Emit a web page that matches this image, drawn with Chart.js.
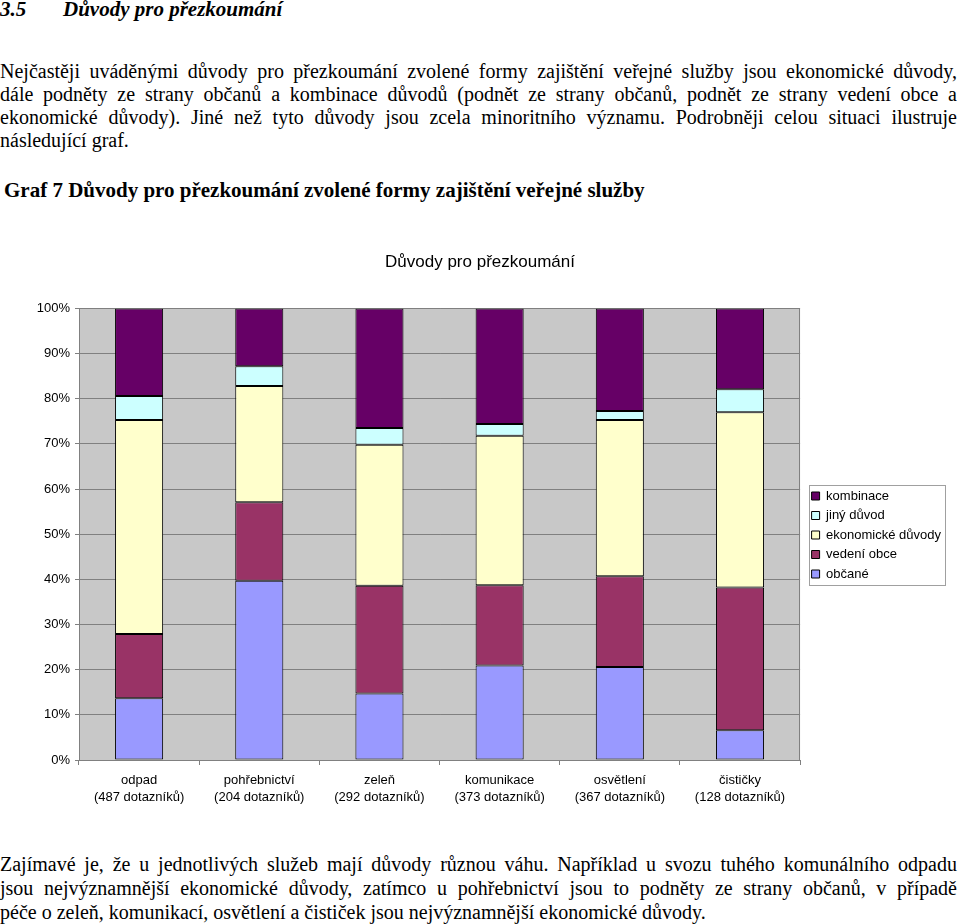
<!DOCTYPE html>
<html lang="cs">
<head>
<meta charset="utf-8">
<script src="https://cdn.jsdelivr.net/npm/chart.js@4.4.1/dist/chart.umd.min.js"></script>
<style>
  html, body { margin: 0; padding: 0; background: #fff; }
  body { width: 960px; height: 924px; position: relative; overflow: hidden;
         font-family: "Liberation Serif", "Times New Roman", serif; color: #000; }
  .line { position: absolute; left: 0; width: 957px; font-size: 20px; line-height: 23px;
          white-space: nowrap; text-align: justify; text-align-last: justify; }
  .last { text-align-last: left; }
  #h { position: absolute; left: 0; top: -3px; font-size: 21px; font-weight: bold; font-style: italic; }
  #h span { display: inline-block; width: 63px; }
  #g { position: absolute; left: 4px; top: 178px; font-size: 21px; font-weight: bold; }
  #wrap { position: absolute; left: 0; top: 230px; width: 960px; height: 600px; }
</style>
</head>
<body>
<div id="h"><span>3.5</span>Důvody pro přezkoumání</div>
<div class="line" style="top:60px">Nejčastěji uváděnými důvody pro přezkoumání zvolené formy zajištění veřejné služby jsou ekonomické důvody,</div>
<div class="line" style="top:83px">dále podněty ze strany občanů a kombinace důvodů (podnět ze strany občanů, podnět ze strany vedení obce a</div>
<div class="line" style="top:106px">ekonomické důvody). Jiné než tyto důvody jsou zcela minoritního významu. Podrobněji celou situaci ilustruje</div>
<div class="line last" style="top:129px">následující graf.</div>
<div id="g">Graf 7 Důvody pro přezkoumání zvolené formy zajištění veřejné služby</div>
<div id="wrap"><canvas id="c" width="960" height="600"></canvas></div>
<div class="line" style="top:853px">Zajímavé je, že u jednotlivých služeb mají důvody různou váhu. Například u svozu tuhého komunálního odpadu</div>
<div class="line" style="top:877px">jsou nejvýznamnější ekonomické důvody, zatímco u pohřebnictví jsou to podněty ze strany občanů, v případě</div>
<div class="line last" style="top:901px">péče o zeleň, komunikací, osvětlení a čističek jsou nejvýznamnější ekonomické důvody.</div>

<script>
// ---- data (percent shares) ----
const categories = [
  ["odpad", "(487 dotazníků)"],
  ["pohřebnictví", "(204 dotazníků)"],
  ["zeleň", "(292 dotazníků)"],
  ["komunikace", "(373 dotazníků)"],
  ["osvětlení", "(367 dotazníků)"],
  ["čističky", "(128 dotazníků)"]
];
const obcane      = [13.7, 39.7, 14.7, 20.9, 20.6, 6.6];
const vedeniObce  = [14.2, 17.4, 23.9, 17.8, 20.1, 31.6];
const ekonomicke  = [47.4, 25.7, 31.2, 33.1, 34.6, 38.8];
const jinyDuvod   = [5.3, 4.4, 3.7, 2.6, 2.0, 5.1];
const kombinace   = [19.4, 12.8, 26.5, 25.6, 22.7, 17.9];
const yTicks = [0, 10, 20, 30, 40, 50, 60, 70, 80, 90, 100];

const FONT = "'Liberation Sans', Arial, sans-serif";

const plotBg = {
  id: 'plotBg',
  beforeDraw(chart) {
    const {ctx, chartArea: a} = chart;
    ctx.save();
    ctx.fillStyle = '#c8c8c8';
    ctx.fillRect(a.left, a.top, a.right - a.left, a.bottom - a.top);
    ctx.restore();
  },
  afterDatasetsDraw(chart) {
    const {ctx, chartArea: a} = chart;
    ctx.save();
    ctx.strokeStyle = '#808080';
    ctx.lineWidth = 1;
    ctx.beginPath();
    ctx.moveTo(Math.round(a.right) - 0.5, a.top);
    ctx.lineTo(Math.round(a.right) - 0.5, a.bottom);
    ctx.stroke();
    ctx.restore();
  }
};

// nudge the legend block and title to where they sit in the original
const blockShift = {
  id: 'blockShift',
  afterLayout(chart) {
    const lg = chart.legend;
    if (lg) {
      lg.top += 5; lg.bottom += 5;
      lg.left += 5; lg.right += 5;
    }
    const tb = chart.titleBlock;
    if (tb) { tb.left += 7; tb.right += 7; }
  }
};

const legendFrame = {
  id: 'legendFrame',
  afterDraw(chart) {
    const lg = chart.legend;
    if (!lg || !lg.legendHitBoxes || !lg.legendHitBoxes.length) return;
    let l = Infinity, t = Infinity, r = -Infinity, b = -Infinity;
    lg.legendHitBoxes.forEach(h => {
      l = Math.min(l, h.left); t = Math.min(t, h.top);
      r = Math.max(r, h.left + h.width); b = Math.max(b, h.top + h.height);
    });
    const ctx = chart.ctx;
    ctx.save();
    ctx.strokeStyle = '#a0a0a0';
    ctx.lineWidth = 1;
    ctx.strokeRect(Math.round(l - 3) + 0.5, Math.round(t - 5) + 0.5,
                   Math.round(r - l + 7), Math.round(b - t + 9));
    ctx.restore();
  }
};

const mk = (label, data, color) => ({
  label, data, backgroundColor: color, borderColor: '#000', borderWidth: 1,
  borderSkipped: false, categoryPercentage: 1.0, barPercentage: 0.4
});

new Chart(document.getElementById('c'), {
  type: 'bar',
  data: {
    labels: categories,
    datasets: [
      mk('občané', obcane, '#9999ff'),
      mk('vedení obce', vedeniObce, '#993366'),
      mk('ekonomické důvody', ekonomicke, '#ffffcc'),
      mk('jiný důvod', jinyDuvod, '#ccffff'),
      mk('kombinace', kombinace, '#660066')
    ]
  },
  options: {
    responsive: false,
    animation: false,
    layout: { padding: { left: 0, right: 14, top: 0, bottom: 0 } },
    plugins: {
      title: {
        display: true, text: 'Důvody pro přezkoumání', color: '#000',
        font: { family: FONT, size: 17, weight: 'normal' },
        padding: { top: 22, bottom: 36 }
      },
      legend: {
        position: 'right', reverse: true,
        labels: {
          color: '#000', boxWidth: 8, boxHeight: 8, padding: 6.5,
          font: { family: FONT, size: 13 }
        }
      },
      tooltip: { enabled: false }
    },
    scales: {
      x: {
        stacked: true,
        grid: { display: true, drawOnChartArea: false, offset: true, color: '#808080', tickLength: 5 },
        border: { display: true, color: '#808080' },
        ticks: { color: '#000', font: { family: FONT, size: 13, lineHeight: 1.38 }, padding: 6, maxRotation: 0 },
        afterFit(s) { s.height = 70; }
      },
      y: {
        stacked: true, min: 0, max: 100,
        afterBuildTicks(s) { s.ticks = yTicks.map(v => ({ value: v })); },
        grid: { color: '#808080', tickLength: 4 },
        border: { display: true, color: '#808080' },
        ticks: { color: '#000', font: { family: FONT, size: 13 }, padding: 5,
                 callback: v => v + '%' },
        afterFit(s) { s.width = 79; }
      }
    }
  },
  plugins: [plotBg, blockShift, legendFrame]
});
</script>
</body>
</html>
